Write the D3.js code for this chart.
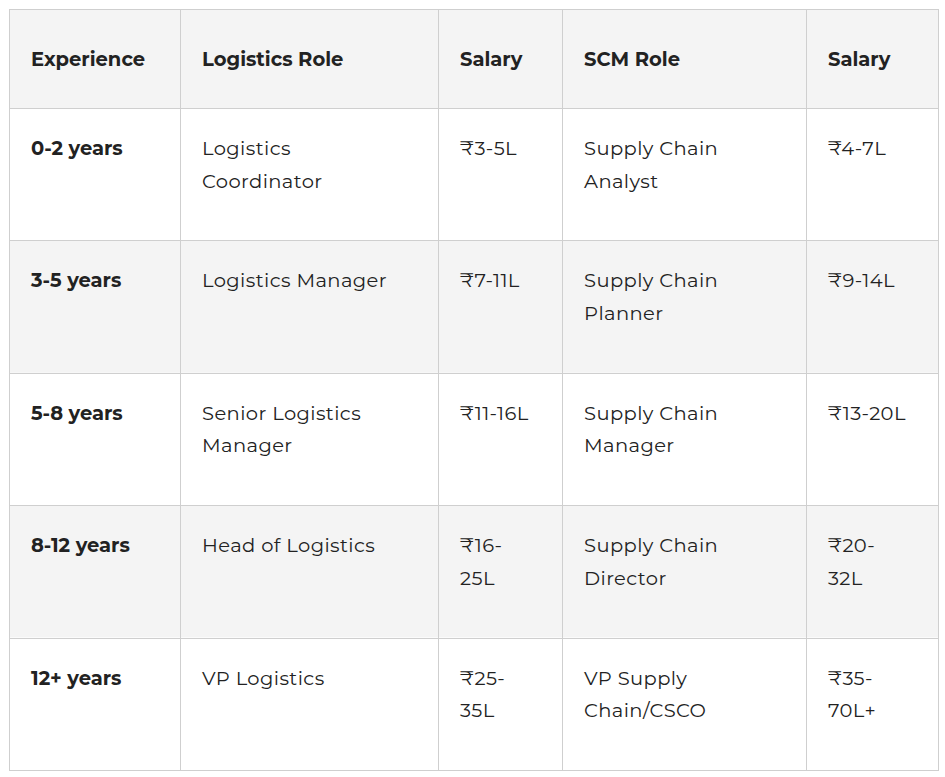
<!DOCTYPE html>
<html><head><meta charset="utf-8">
<script src="https://cdn.jsdelivr.net/npm/d3@7"></script>
<style>body{margin:0;background:#fff}</style>
</head><body><div id="root"></div>
<script>
const headers = ['Experience', 'Logistics Role', 'Salary', 'SCM Role', 'Salary'];
const experience = ['0-2 years', '3-5 years', '5-8 years', '8-12 years', '12+ years'];
const logisticsRoles = ['Logistics|Coordinator', 'Logistics Manager', 'Senior Logistics|Manager', 'Head of Logistics', 'VP Logistics'];
const logisticsSalary = ['₹3-5L', '₹7-11L', '₹11-16L', '₹16-|25L', '₹25-|35L'];
const scmRoles = ['Supply Chain|Analyst', 'Supply Chain|Planner', 'Supply Chain|Manager', 'Supply Chain|Director', 'VP Supply|Chain/CSCO'];
const scmSalary = ['₹4-7L', '₹9-14L', '₹13-20L', '₹20-|32L', '₹35-|70L+'];

const colEdges = [9, 180, 438, 562, 806, 938];
const rows = experience.map((e, i) => [e, logisticsRoles[i], logisticsSalary[i], scmRoles[i], scmSalary[i]]);

const svg = d3.select('#root').append('svg').attr('width', 945).attr('height', 777);
const y = d3.scaleLinear().domain([0, 1]).range([9, 108]); // header
const yRow = d3.scaleLinear().domain([0, rows.length]).range([108, 770]);

function cellRow(g, cells, top, h, fill, header) {
  g.append('rect').attr('x', colEdges[0]).attr('y', top).attr('width', colEdges[5] - colEdges[0])
    .attr('height', h).attr('fill', fill);
  cells.forEach((c, j) => {
    const t = g.append('text').attr('x', colEdges[j] + 22).attr('y', header ? top + h / 2 + 7 : top + 47)
      .attr('font-family', 'Montserrat, "Open Sans", sans-serif').attr('font-size', 19.5)
      .attr('fill', '#222').attr('font-weight', header || j === 0 ? 700 : 400)
      .attr('letter-spacing', header || j === 0 ? 0 : 0.4);
    c.split('|').forEach((line, k) => t.append('tspan').attr('x', colEdges[j] + 22).attr('dy', k ? 32.5 : 0).text(line));
  });
}

cellRow(svg.append('g'), headers, y(0), y(1) - y(0), '#f4f4f4', true);
rows.forEach((r, i) => cellRow(svg.append('g'), r, yRow(i), yRow(i + 1) - yRow(i), i % 2 ? '#f4f4f4' : '#fff', false));

const lines = svg.append('g').attr('stroke', '#cfcfcf').attr('stroke-width', 1);
colEdges.forEach(x => lines.append('line').attr('x1', x + 0.5).attr('x2', x + 0.5).attr('y1', 9).attr('y2', 770));
[9].concat(d3.range(rows.length + 1).map(yRow)).forEach(v => lines.append('line')
  .attr('x1', colEdges[0]).attr('x2', colEdges[5] + 1).attr('y1', Math.round(v) + 0.5).attr('y2', Math.round(v) + 0.5));
</script></body></html>
